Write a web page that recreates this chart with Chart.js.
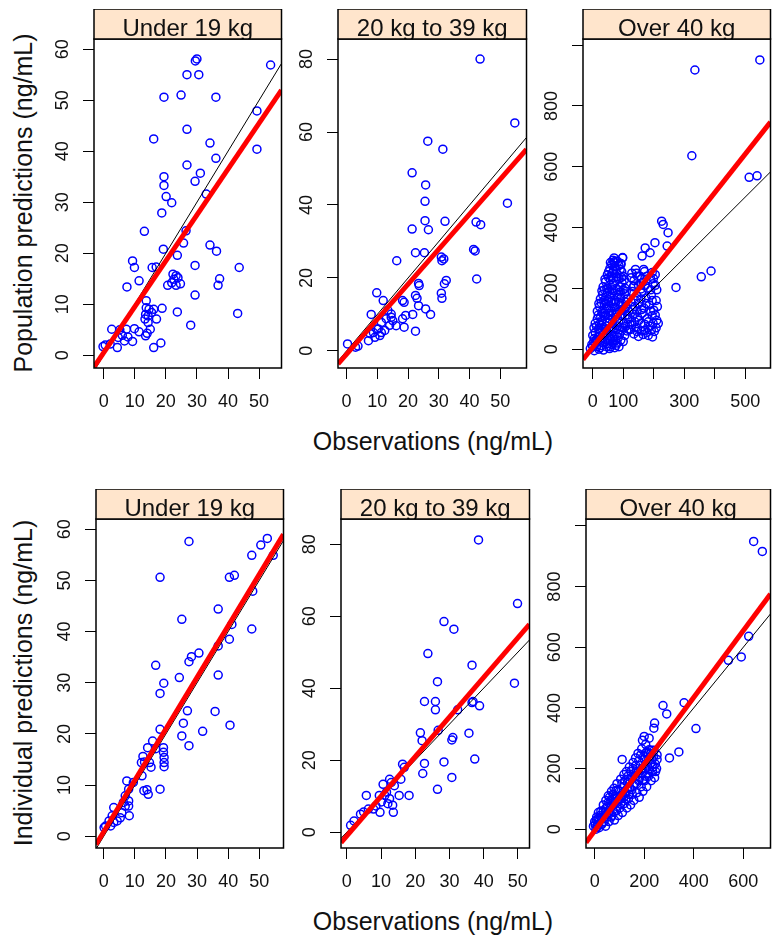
<!DOCTYPE html>
<html>
<head>
<meta charset="utf-8">
<title>Predictions vs observations by weight group</title>
<script src="https://cdn.jsdelivr.net/npm/chart.js@4.4.1/dist/chart.umd.min.js"></script>
<style>
    html, body { margin: 0; padding: 0; background: #fff; overflow: hidden; }
    #page { position: relative; width: 775px; height: 940px; overflow: hidden; font-family: "Liberation Sans", Arial, sans-serif; color: #111; }
    #page canvas { position: absolute; }
    .title { position: absolute; font-size: 25px; line-height: 1; white-space: nowrap; }
    .title.x { transform: translate(-50%, -50%); }
    .title.y { transform: translate(-50%, -50%) rotate(-90deg); }
</style>
</head>
<body>
<div id="page">
    <div class="title y" style="left:23px; top:203px">Population predictions (ng/mL)</div>
    <div class="title x" style="left:433px; top:441px">Observations (ng/mL)</div>
    <div class="title y" style="left:23px; top:683px">Individual predictions (ng/mL)</div>
    <div class="title x" style="left:433px; top:921px">Observations (ng/mL)</div>
</div>
<script>
// STRIPS AND TICKS
const weightGroups = ['Under 19 kg', '20 kg to 39 kg', 'Over 40 kg'];
const ticks0to50 = [0, 10, 20, 30, 40, 50];
const ticks0to60 = [0, 10, 20, 30, 40, 50, 60];
const ticks0to80 = [0, 20, 40, 60, 80];
const ticksBy100 = [0, 100, 200, 300, 400, 500, 600];
const labelsBy100 = ['0', '100', '', '300', '', '500', ''];
const ticksBy200 = [0, 200, 400, 600];
const ticks0to1000 = [0, 200, 400, 600, 800, 1000];
const labels0to1000 = ['0', '200', '400', '600', '800', ''];

// axis limits: [min, max]
const xLimits = [[-3.1, 57.2], [-2.8, 58.5], [-32, 583], [-2.5, 57.8], [-1.7, 53.4], [-35, 710]];
const yLimits = [[-2.5, 62], [-4.7, 85.5], [-62, 1020], [-2.3, 62], [-4.4, 87], [-62, 1023]];

// red fitted lines (intercept, slope); black line is y = x
const fitIntercept = [0.5, -0.9, 6.6, 0.9, -1.0, -5.5];
const fitSlope = [0.90, 0.96, 1.27, 1.005, 1.10, 1.10];

// POPULATION PREDICTIONS - [observation, prediction]
const popUnder19 = [
    [29.5, 57.7], [30.0, 58.1], [26.8, 55.0], [30.6, 55.0], [53.7, 56.9], [19.4, 50.6], [24.9, 51.0], [36.1, 50.6],
    [49.3, 47.9], [26.8, 44.3], [16.1, 42.4], [34.2, 41.6], [49.3, 40.4], [36.1, 38.6], [26.8, 37.3], [31.1, 35.7],
    [29.4, 34.1], [19.4, 35.0], [19.4, 33.3], [20.1, 31.1], [21.9, 29.9], [33.0, 31.6], [18.7, 27.9], [13.1, 24.3],
    [26.5, 24.4], [25.7, 22.0], [34.2, 21.6], [36.3, 20.4], [19.2, 20.8], [23.7, 19.6], [9.3, 18.5], [9.9, 17.2],
    [15.6, 17.2], [16.9, 17.3], [29.4, 17.6], [43.6, 17.2], [11.4, 14.6], [7.5, 13.4], [22.3, 15.9], [23.3, 15.6],
    [22.6, 14.9], [23.9, 15.2], [21.9, 14.2], [24.7, 14.0], [20.6, 13.7], [23.3, 13.7], [37.3, 15.0], [36.8, 13.7],
    [29.4, 11.8], [13.7, 10.7], [13.7, 9.3], [14.6, 9.0], [13.5, 8.0], [14.3, 7.7], [15.4, 8.4], [13.3, 7.1],
    [14.3, 6.4], [16.1, 9.0], [18.8, 9.2], [17.0, 7.1], [23.7, 8.5], [43.1, 8.2], [28.0, 5.9], [2.6, 5.1],
    [5.2, 5.0], [7.3, 5.1], [9.9, 5.2], [11.4, 4.6], [14.0, 4.3], [6.0, 3.9], [7.8, 3.6], [13.5, 3.8],
    [15.0, 5.1], [4.7, 3.5], [6.7, 2.8], [9.3, 2.7], [2.1, 2.2], [4.4, 1.5], [16.1, 1.5], [18.4, 2.4],
    [-0.2, 1.7], [0.5, 2.0]
];
const pop20to39 = [
    [43.4, 80.0], [54.7, 62.5], [26.4, 57.5], [31.3, 55.3], [21.3, 48.8], [25.7, 45.5], [25.5, 41.0], [52.3, 40.5],
    [25.5, 35.7], [32.0, 35.5], [42.1, 35.3], [43.6, 34.6], [21.3, 33.4], [26.6, 33.2], [41.3, 27.8], [41.8, 27.4],
    [22.4, 26.9], [25.3, 26.9], [30.8, 25.7], [31.6, 25.2], [31.0, 24.7], [16.3, 24.7], [23.4, 18.5], [23.6, 17.9],
    [32.4, 19.3], [31.8, 18.4], [42.3, 19.7], [30.8, 15.8], [31.0, 14.4], [22.4, 15.2], [22.9, 14.4], [23.4, 12.4],
    [25.7, 11.5], [27.3, 10.0], [9.8, 15.9], [11.9, 13.8], [18.2, 13.8], [18.7, 13.3], [21.5, 10.0], [19.2, 9.7],
    [18.2, 8.8], [18.7, 6.5], [8.0, 10.0], [22.4, 5.4], [13.4, 11.1], [14.5, 10.1], [12.9, 8.8], [15.0, 8.3],
    [11.3, 7.8], [14.0, 7.0], [10.3, 6.0], [12.4, 5.6], [16.1, 6.9], [8.7, 5.0], [11.3, 5.0], [7.1, 2.8],
    [9.8, 6.0], [10.8, 4.2], [7.7, 4.7], [9.2, 3.7], [14.5, 9.2], [0.3, 1.9], [2.9, 1.0], [3.7, 1.3]
];
const popOver40 = [
    [335, 918], [548, 951], [325, 636], [513, 565], [539, 570], [273, 203], [356, 238], [388, 257],
    [226, 421], [231, 410], [247, 383], [244, 339], [204, 350], [188, 317], [172, 333], [162, 306],
    [98, 301], [71, 284], [93, 279], [167, 262], [146, 240], [135, 208], [199, 232],
    [-8, 2], [0, 10], [5, -5], [12, 8], [20, 0], [28, 12], [35, -3], [45, 8], [55, 2], [62, 15], [72, 5], [80, 20],
    [3, 25], [15, 28], [40, 25], [50, 30], [68, 28],
    [-3, 15], [10, 18], [24, 5], [32, 22], [48, 18], [58, 8], [66, 20], [76, 12], [86, 8],
    [5, 35], [12, 32], [22, 30], [36, 38], [46, 50], [56, 35], [65, 40], [74, 32], [84, 38], [92, 30], [100, 25],
    [0, 45], [8, 55], [18, 42], [25, 62], [32, 48], [42, 66], [52, 44], [60, 58], [70, 45], [78, 65], [88, 50],
    [95, 62], [105, 45], [112, 60],
    [4, 70], [12, 75], [20, 68], [28, 78], [36, 72], [44, 76], [52, 65], [62, 74], [70, 68], [82, 76], [90, 72],
    [98, 70], [108, 75], [118, 65],
    [8, 85], [15, 100], [22, 82], [30, 95], [38, 108], [47, 86], [55, 100], [65, 88], [75, 105], [85, 92],
    [92, 110], [102, 85], [115, 98], [122, 82],
    [18, 112], [26, 108], [34, 118], [42, 112], [50, 118], [58, 112], [68, 118], [78, 115], [88, 125], [96, 115],
    [106, 110], [114, 112],
    [15, 125], [22, 140], [30, 122], [38, 148], [46, 130], [54, 142], [62, 125], [72, 138], [80, 120], [90, 145],
    [100, 128], [110, 140], [118, 125],
    [20, 150], [28, 152], [36, 160], [44, 150], [52, 158], [60, 155], [68, 150], [76, 155], [86, 155], [96, 150], [108, 155],
    [25, 165], [32, 180], [40, 162], [48, 188], [56, 170], [64, 185], [72, 162], [82, 178], [92, 168], [104, 182], [112, 165],
    [30, 192], [38, 195], [46, 200], [54, 190], [62, 198], [70, 192], [80, 195], [90, 188], [100, 195], [110, 190],
    [34, 205], [42, 222], [50, 200], [58, 228], [66, 210], [76, 225], [86, 205], [96, 218], [106, 200],
    [40, 230], [52, 235], [60, 240], [68, 235], [78, 238], [86, 232], [94, 236], [104, 228],
    [48, 245], [56, 265], [64, 250], [72, 272], [80, 248], [90, 262], [100, 240], [62, 278],
    [52, 255], [68, 258], [76, 262], [86, 275], [95, 255], [58, 285], [66, 292],
    [70, 300], [92, 282], [82, 288], [98, 300], [75, 290],
    [128, 250], [140, 262], [155, 240], [170, 255], [190, 230], [205, 245], [135, 225], [150, 210], [165, 220],
    [180, 200], [198, 215], [210, 195], [130, 190], [145, 175], [160, 185], [175, 168], [192, 178], [208, 160],
    [125, 155], [138, 140], [152, 150], [168, 135], [185, 145], [200, 128], [212, 140], [132, 115], [147, 105],
    [162, 118], [178, 100], [195, 110], [210, 95], [128, 80], [142, 70], [158, 85], [172, 62], [188, 75],
    [202, 58], [135, 50], [150, 42], [165, 48], [182, 45], [196, 40], [215, 85], [120, 100],
    [126, 235], [143, 250], [160, 232], [178, 240], [195, 252], [133, 205], [158, 198], [172, 210], [190, 195],
    [205, 210], [140, 160], [158, 165], [175, 150], [195, 160], [130, 130], [145, 125], [160, 130], [190, 125],
    [205, 112], [138, 90], [152, 95], [170, 82], [182, 90], [198, 85], [145, 58], [160, 60], [178, 55], [192, 62],
    [208, 70], [125, 65]
];

// INDIVIDUAL PREDICTIONS - [observation, prediction]
const indUnder19 = [
    [27.4, 57.6], [52.6, 58.2], [50.5, 56.9], [54.5, 54.9], [47.6, 54.9], [18.1, 50.6], [40.4, 50.6], [42.0, 51.0],
    [47.9, 47.9], [36.8, 44.4], [25.1, 42.4], [41.2, 41.4], [47.6, 40.5], [40.4, 38.5], [36.8, 37.2], [30.6, 35.8],
    [28.2, 35.1], [27.4, 34.1], [16.7, 33.4], [36.8, 31.5], [24.3, 31.0], [19.3, 29.9], [18.1, 27.9], [26.9, 24.5],
    [35.8, 24.4], [25.6, 22.1], [40.6, 21.7], [31.8, 20.5], [25.1, 19.6], [27.4, 17.7], [18.1, 20.9], [19.2, 17.3],
    [19.2, 16.4], [19.4, 15.4], [19.4, 14.4], [19.4, 13.6], [15.7, 18.6], [14.1, 17.3], [16.7, 17.1], [12.6, 15.6],
    [12.1, 14.4], [13.1, 14.5], [15.2, 13.5], [14.7, 14.4], [12.3, 11.8], [18.1, 9.2], [12.9, 8.9], [14.3, 8.2],
    [13.9, 9.1], [7.4, 10.8], [9.5, 10.5], [8.0, 9.2], [6.9, 7.9], [6.3, 6.6], [8.0, 5.9], [8.2, 4.0],
    [3.2, 5.6], [5.8, 4.6], [2.7, 4.0], [1.7, 3.0], [0.6, 2.0], [3.2, 2.7], [4.3, 3.0], [0.1, 1.7],
    [2.2, 2.0], [5.3, 3.6], [6.9, 5.9], [8.0, 6.9]
];
const ind20to39 = [
    [38.5, 81.2], [49.9, 63.5], [28.4, 58.5], [31.3, 56.4], [23.7, 49.6], [36.6, 46.4], [26.5, 41.8], [49.0, 41.4],
    [22.7, 36.3], [25.9, 36.3], [25.9, 34.0], [36.9, 36.3], [38.8, 35.1], [36.6, 36.0], [32.4, 34.0], [21.5, 27.6],
    [26.7, 28.3], [22.0, 25.4], [31.0, 26.3], [30.7, 25.6], [35.7, 27.5], [16.3, 18.9], [16.8, 18.0], [22.7, 19.1],
    [22.2, 16.3], [28.4, 19.5], [30.7, 15.2], [26.5, 11.9], [37.4, 20.3], [12.5, 14.7], [13.0, 13.8], [10.6, 13.3],
    [13.9, 12.9], [9.5, 10.2], [11.1, 10.2], [12.5, 9.3], [12.0, 7.9], [10.1, 8.4], [13.4, 7.5], [15.3, 10.2],
    [18.2, 10.2], [7.8, 6.4], [9.7, 5.5], [13.6, 5.5], [8.5, 7.3], [11.6, 11.1], [15.8, 14.7], [5.7, 10.2],
    [4.0, 5.0], [4.9, 5.6], [2.1, 3.1], [1.1, 1.9], [6.3, 6.4]
];
const indOver40 = [
    [642, 949], [677, 916], [622, 636], [592, 568], [540, 557], [276, 408], [291, 380], [361, 417], [409, 332],
    [242, 350], [239, 333], [200, 306], [193, 293], [111, 230], [302, 235], [340, 255], [252, 230], [233, 213],
    [207, 251], [220, 262],
    [-5, 10], [0, 25], [5, 0], [8, 40], [12, 15], [15, 55], [18, 5], [20, 30],
    [25, 60], [28, 15], [32, 40], [35, 80], [38, 25], [42, 55], [45, 95], [44, 10],
    [50, 40], [52, 75], [55, 110], [58, 25], [62, 60], [65, 95], [68, 125], [70, 45],
    [75, 80], [78, 135], [80, 30], [84, 110], [88, 60], [90, 150], [93, 90], [95, 45],
    [100, 125], [102, 70], [105, 165], [108, 100], [112, 55], [115, 140], [118, 180], [120, 85],
    [125, 120], [128, 190], [130, 70], [133, 155], [136, 100], [140, 205], [142, 135], [145, 80],
    [150, 170], [152, 115], [155, 220], [158, 95], [162, 150], [165, 235], [168, 190], [170, 120],
    [175, 250], [178, 160], [180, 105], [184, 210], [188, 140], [190, 265], [193, 185], [195, 125],
    [200, 230], [203, 160], [206, 280], [210, 140], [213, 205], [216, 250], [218, 175], [220, 300],
    [225, 215], [228, 160], [230, 260], [234, 190], [238, 240], [242, 170], [245, 215], [250, 200],
    [2, 15], [6, 30], [10, 8], [14, 35], [22, 45], [26, 38], [30, 20], [34, 60], [40, 40], [46, 70], [48, 50],
    [54, 88], [57, 55], [60, 105], [64, 72], [67, 40], [72, 100], [74, 115], [77, 58], [82, 90], [86, 128],
    [90, 75], [94, 130], [98, 100], [104, 110], [106, 85], [110, 150], [113, 120], [118, 105], [122, 160],
    [126, 100], [132, 135], [134, 175], [138, 115], [144, 160], [146, 190], [150, 130], [154, 200], [157, 145],
    [162, 175], [166, 210], [170, 150], [174, 190], [178, 225], [182, 170], [186, 245], [190, 200], [194, 160],
    [198, 240], [202, 200], [206, 175], [210, 255], [214, 185], [218, 230], [222, 195], [226, 250], [232, 230],
    [236, 205], [240, 260], [246, 190], [252, 245]
];

// PANEL SETUP
const panelData = [popUnder19, pop20to39, popOver40, indUnder19, ind20to39, indOver40];
const xTickSets = [ticks0to50, ticks0to50, ticksBy100, ticks0to50, ticks0to50, ticksBy200];
const xLabelSets = [null, null, labelsBy100, null, null, null];
const yTickSets = [ticks0to60, ticks0to80, ticks0to1000, ticks0to60, ticks0to80, ticks0to1000];
const yLabelSets = [null, null, labels0to1000, null, null, labels0to1000];

// plot box of each panel on the page: left, top, right, bottom
const panelBoxes = [
    [94, 39, 287, 368], [338, 39, 532, 368], [583, 39, 776, 368],
    [96, 519, 289, 848], [341, 519, 535, 848], [586, 519, 776, 848]
];
const STRIP_H = 30, Y_AXIS_W = 60, X_AXIS_H = 50;
const TEXT = '#111';
const FONT = '"Liberation Sans", Arial, sans-serif';

Chart.defaults.font.family = FONT;

function tickLabel(ticks, labels, v) {
    const i = ticks.indexOf(v);
    if (i < 0) return '';
    return labels ? labels[i] : String(v);
}

// strip, panel box and rotated y tick labels, lattice style
const latticePlugin = {
    id: 'lattice',
    afterDraw(chart, args, opts) {
        const ctx = chart.ctx;
        const a = chart.chartArea;
        const ys = chart.scales.y;
        const w = a.right - a.left;
        ctx.save();

        ctx.fillStyle = TEXT;
        ctx.font = '18px ' + FONT;
        ctx.textAlign = 'center';
        ctx.textBaseline = 'middle';
        ys.ticks.forEach(t => {
            const lab = tickLabel(opts.yTicks, opts.yLabels, t.value);
            if (!lab) return;
            ctx.save();
            ctx.translate(a.left - 31, ys.getPixelForValue(t.value));
            ctx.rotate(-Math.PI / 2);
            ctx.fillText(lab, 0, 0);
            ctx.restore();
        });

        ctx.strokeStyle = '#000';
        ctx.lineWidth = 1.5;
        ctx.strokeRect(a.left, a.top, w, a.bottom - a.top);

        ctx.fillStyle = '#ffe5cc';
        ctx.fillRect(a.left, a.top - STRIP_H, w, STRIP_H);
        ctx.save();
        ctx.beginPath();
        ctx.rect(a.left, a.top - STRIP_H, w, STRIP_H);
        ctx.clip();
        ctx.fillStyle = TEXT;
        ctx.font = '24px ' + FONT;
        ctx.textAlign = 'center';
        ctx.textBaseline = 'alphabetic';
        ctx.fillText(opts.strip, (a.left + a.right) / 2, a.top - 3);
        ctx.restore();
        ctx.strokeRect(a.left, a.top - STRIP_H, w, STRIP_H);

        ctx.restore();
    }
};

const page = document.getElementById('page');

panelData.forEach((pts, i) => {
    const box = panelBoxes[i];
    const cv = document.createElement('canvas');
    cv.width = box[2] - box[0] + Y_AXIS_W;
    cv.height = box[3] - box[1] + STRIP_H + X_AXIS_H;
    cv.style.left = (box[0] - Y_AXIS_W) + 'px';
    cv.style.top = (box[1] - STRIP_H) + 'px';
    page.appendChild(cv);

    const [xMin, xMax] = xLimits[i];
    const [yMin, yMax] = yLimits[i];
    const fitAt = x => fitIntercept[i] + fitSlope[i] * x;
    const xTicks = xTickSets[i], yTicks = yTickSets[i];

    new Chart(cv, {
        type: 'scatter',
        data: {
            datasets: [{
                data: [{ x: xMin, y: fitAt(xMin) }, { x: xMax, y: fitAt(xMax) }],
                showLine: true,
                borderColor: '#ff0000',
                borderWidth: 5,
                pointRadius: 0,
                clip: 0,
                order: 0
            }, {
                data: [{ x: xMin, y: xMin }, { x: xMax, y: xMax }],
                showLine: true,
                borderColor: '#000',
                borderWidth: 1,
                pointRadius: 0,
                clip: 0,
                order: 1
            }, {
                data: pts.map(p => ({ x: p[0], y: p[1] })),
                pointStyle: 'circle',
                pointRadius: 4,
                borderColor: '#0000ff',
                borderWidth: 1.5,
                backgroundColor: 'rgba(0,0,0,0)',
                clip: 0,
                order: 2
            }]
        },
        options: {
            responsive: false,
            animation: false,
            devicePixelRatio: 1,
            layout: { padding: { top: STRIP_H, left: 0, right: 0, bottom: 0 } },
            scales: {
                x: {
                    type: 'linear',
                    min: xMin,
                    max: xMax,
                    afterBuildTicks: s => { s.ticks = xTicks.filter(v => v >= xMin && v <= xMax).map(v => ({ value: v })); },
                    afterFit: s => { s.height = X_AXIS_H; s.paddingLeft = 0; s.paddingRight = 0; },
                    ticks: {
                        autoSkip: false,
                        maxRotation: 0,
                        padding: 12,
                        color: TEXT,
                        font: { size: 18 },
                        callback: v => tickLabel(xTicks, xLabelSets[i], v)
                    },
                    grid: { drawOnChartArea: false, tickLength: 11, color: '#000', lineWidth: 1 },
                    border: { display: false }
                },
                y: {
                    type: 'linear',
                    min: yMin,
                    max: yMax,
                    afterBuildTicks: s => { s.ticks = yTicks.filter(v => v >= yMin && v <= yMax).map(v => ({ value: v })); },
                    afterFit: s => { s.width = Y_AXIS_W; s.paddingTop = 0; s.paddingBottom = 0; },
                    ticks: { display: false },
                    grid: { drawOnChartArea: false, tickLength: 11, color: '#000', lineWidth: 1 },
                    border: { display: false }
                }
            },
            plugins: {
                legend: { display: false },
                tooltip: { enabled: false },
                lattice: { strip: weightGroups[i % 3], yTicks: yTicks, yLabels: yLabelSets[i] }
            }
        },
        plugins: [latticePlugin]
    });
});
</script>
</body>
</html>
